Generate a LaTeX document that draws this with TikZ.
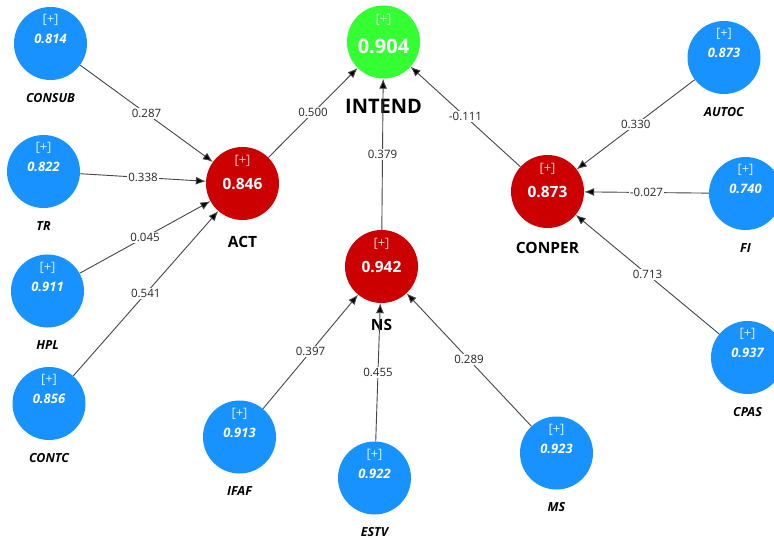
\documentclass[tikz,border=0pt]{standalone}
\usepackage{fontspec}
\setmainfont{Open Sans}
\usetikzlibrary{arrows.meta}
\definecolor{nblue}{RGB}{24,146,255}
\definecolor{nred}{RGB}{204,0,0}
\definecolor{ngreen}{RGB}{51,255,51}
\definecolor{lnk}{RGB}{70,70,70}
\tikzset{
  circ/.style={circle, minimum size=73pt, inner sep=0pt},
  indic/.style={circ, fill=nblue},
  constr/.style={circ, fill=nred},
  target/.style={circ, fill=ngreen},
  plusb/.style={inner sep=0pt, text=white!85!nblue, font=\fontsize{13}{13}\selectfont},
  plusr/.style={inner sep=0pt, text=white!80!nred, font=\fontsize{13}{13}\selectfont},
  plusg/.style={inner sep=0pt, text=white!80!ngreen, font=\fontsize{13}{13}\selectfont},
  valb/.style={inner sep=0pt, text=white, font=\fontsize{13}{13}\selectfont\bfseries\itshape},
  valr/.style={inner sep=0pt, text=white, font=\fontsize{15.5}{16}\selectfont\bfseries},
  valg/.style={inner sep=0pt, text=white, font=\fontsize{20}{21}\selectfont\bfseries},
  labb/.style={inner sep=0pt, text=black, font=\fontsize{12.5}{13}\selectfont\bfseries\itshape},
  labr/.style={inner sep=0pt, text=black, font=\fontsize{15.5}{16}\selectfont\bfseries},
  labg/.style={inner sep=0pt, text=black, font=\fontsize{20}{21}\selectfont\bfseries},
  link/.style={draw=lnk, line width=0.9pt, -{Latex[length=10pt,width=8pt,fill=black]}},
  elab/.style={midway, fill=white, inner sep=1.2pt, text=black!85, font=\fontsize{11.5}{12}\selectfont},
}
\newcommand\blueLV[5]{%
  \node[indic] (#1) at (#2,#3) {};
  \node[plusb] (#1-p) at ([yshift=23.5pt]#1.center) {[+]};
  \node[valb] (#1-v) at ([yshift=4.5pt]#1.center) {#4};
  \node[labb] (#1-l) at ([yshift=-54.5pt]#1.center) {#5};
}
\newcommand\redLV[6]{%
  \node[constr] (#1) at (#2,#3) {};
  \node[plusr] (#1-p) at ([yshift=23pt]#1.center) {[+]};
  \node[valr] (#1-v) at ([yshift=0pt]#1.center) {#4};
  \node[labr] (#1-l) at ([yshift=-#6pt]#1.center) {#5};
}
\begin{document}
\begin{tikzpicture}[x=1pt, y=-1pt]
  \fill[white] (0,0) rectangle (774,540);
  \useasboundingbox (0,0) rectangle (774,540);

  % indicator (blue) variables
  \blueLV{consub}{50.5}{43.5}{0.814}{CONSUB}
  \blueLV{tr}{43.5}{171.5}{0.822}{TR}
  \blueLV{hpl}{47.5}{291}{0.911}{HPL}
  \blueLV{contc}{49}{403.5}{0.856}{CONTC}
  \blueLV{ifaf}{239.5}{437}{0.913}{IFAF}
  \blueLV{estv}{374.5}{478}{0.922}{ESTV}
  \blueLV{ms}{556.5}{453}{0.923}{MS}
  \blueLV{autoc}{724}{57.5}{0.873}{AUTOC}
  \blueLV{fi}{745.5}{193.5}{0.740}{FI}
  \blueLV{cpas}{747.5}{357.5}{0.937}{CPAS}

  % constructs (red)
  \redLV{act}{242.5}{183.5}{0.846}{ACT}{58.5}
  \redLV{ns}{381.5}{266.5}{0.942}{NS}{58.5}
  \redLV{conper}{547.5}{191.5}{0.873}{CONPER}{56.5}

  % target (green)
  \node[target] (intend) at (383.5,42) {};
  \node[plusg] (intend-p) at ([yshift=22pt]intend.center) {[+]};
  \node[valg] (intend-v) at ([yshift=-4.5pt]intend.center) {0.904};
  \node[labg] (intend-l) at ([yshift=-64pt]intend.center) {INTEND};

  % paths
  \draw[link] (consub) -- node[elab]{0.287} (act);
  \draw[link] (tr) -- node[elab]{0.338} (act);
  \draw[link] (hpl) -- node[elab]{0.045} (act);
  \draw[link] (contc) -- node[elab]{0.541} (act);
  \draw[link] (act) -- node[elab]{0.500} (intend);
  \draw[link] (ns) -- node[elab]{0.379} (intend);
  \draw[link] (conper) -- node[elab]{-0.111} (intend);
  \draw[link] (autoc) -- node[elab]{0.330} (conper);
  \draw[link] (fi) -- node[elab]{-0.027} (conper);
  \draw[link] (cpas) -- node[elab]{0.713} (conper);
  \draw[link] (ifaf) -- node[elab]{0.397} (ns);
  \draw[link] (estv) -- node[elab]{0.455} (ns);
  \draw[link] (ms) -- node[elab]{0.289} (ns);
\end{tikzpicture}
\end{document}
